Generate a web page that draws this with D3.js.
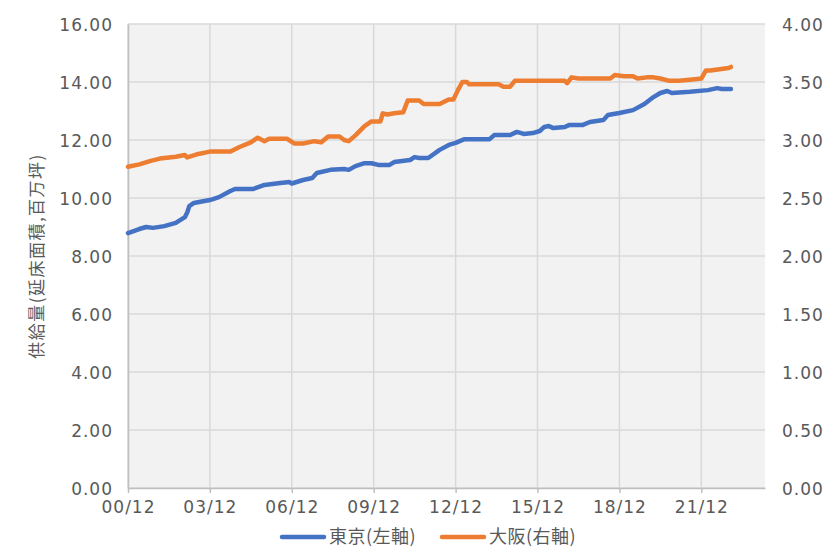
<!DOCTYPE html>
<html>
<head>
<meta charset="utf-8">
<script src="https://cdn.jsdelivr.net/npm/d3@7"></script>
<style>
  body { margin: 0; background: #ffffff; }
  .num { font-family: "DejaVu Sans", sans-serif; font-size: 17px; fill: #595959; letter-spacing: 1px; }
  .jp { font-family: "Noto Sans CJK JP", sans-serif; fill: #595959; }
</style>
</head>
<body>
<div class="chart"></div>
<script>
// Tokyo supply (left axis, million tsubo)
var tokyoDates = ["2000-12","2001-05","2001-08","2001-11","2002-04","2002-09","2003-01","2003-02","2003-03","2003-05",
  "2003-12","2004-04","2004-09","2004-11","2005-07","2005-12","2006-07","2006-11","2006-12","2007-05",
  "2007-09","2007-11","2008-05","2008-11","2009-01","2009-04","2009-08","2009-11","2010-02","2010-07",
  "2010-09","2011-04","2011-06","2011-08","2011-12","2012-05","2012-09","2012-12","2013-02","2013-04",
  "2014-03","2014-05","2014-12","2015-03","2015-06","2015-10","2016-01","2016-03","2016-05","2016-07",
  "2016-12","2017-02","2017-08","2017-11","2018-05","2018-07","2018-12","2019-06","2019-11","2020-03",
  "2020-06","2020-09","2020-11","2021-07","2022-03","2022-07","2022-09","2023-01"];
var tokyoValues = [8.79,8.93,9.00,8.97,9.03,9.14,9.34,9.50,9.72,9.83,
  9.93,10.03,10.24,10.31,10.31,10.45,10.52,10.55,10.50,10.62,
  10.69,10.86,10.97,11.00,10.97,11.10,11.20,11.20,11.14,11.14,
  11.24,11.31,11.41,11.38,11.38,11.66,11.83,11.90,11.97,12.03,
  12.03,12.17,12.17,12.28,12.21,12.24,12.31,12.45,12.48,12.41,
  12.45,12.52,12.52,12.62,12.69,12.86,12.93,13.03,13.24,13.48,
  13.62,13.69,13.62,13.66,13.72,13.79,13.76,13.76];

// Osaka supply (right axis, million tsubo)
var osakaDates = ["2000-12","2001-05","2001-10","2002-02","2002-09","2003-01","2003-02","2003-07","2003-12","2004-09",
  "2005-01","2005-06","2005-09","2005-12","2006-02","2006-10","2007-01","2007-05","2007-10","2008-01",
  "2008-04","2008-09","2008-11","2009-01","2009-04","2009-08","2009-11","2010-03","2010-04","2010-06",
  "2010-09","2011-01","2011-03","2011-08","2011-10","2012-05","2012-07","2012-09","2012-11","2013-01",
  "2013-03","2013-05","2013-06","2014-07","2014-09","2014-12","2015-02","2016-12","2017-01","2017-03",
  "2017-06","2018-08","2018-10","2019-02","2019-06","2019-08","2019-12","2020-03","2020-06","2020-10",
  "2021-02","2021-07","2021-12","2022-02","2022-04","2022-08","2022-12","2023-01"];
var osakaValues = [2.77,2.79,2.82,2.84,2.855,2.87,2.85,2.88,2.90,2.90,
  2.94,2.98,3.02,2.99,3.01,3.01,2.97,2.97,2.99,2.98,
  3.03,3.03,3.00,2.99,3.04,3.12,3.16,3.16,3.23,3.22,
  3.23,3.24,3.34,3.34,3.31,3.31,3.33,3.35,3.35,3.43,
  3.50,3.50,3.48,3.48,3.46,3.46,3.51,3.51,3.49,3.54,
  3.53,3.53,3.56,3.55,3.55,3.53,3.54,3.54,3.53,3.51,
  3.51,3.52,3.53,3.60,3.60,3.61,3.62,3.63];

// axis ticks and labels
var xTickDates = ["2000-12","2003-12","2006-12","2009-12","2012-12","2015-12","2018-12","2021-12"];
var leftTicks = [0, 2, 4, 6, 8, 10, 12, 14, 16];
var rightTicks = [0, 0.5, 1, 1.5, 2, 2.5, 3, 3.5, 4];
var xStart = "2000-12";
var xEnd = "2024-04";
var yTitle = "供給量(延床面積,百万坪)";
var seriesNames = ["東京(左軸)", "大阪(右軸)"];
var seriesColors = ["#4472c4", "#ed7d31"];

var svgWidth = 833;
var svgHeight = 547;
var margin = { top: 24, right: 68, bottom: 59, left: 128 };
var width = svgWidth - margin.left - margin.right;
var height = svgHeight - margin.top - margin.bottom;

var parseMonth = d3.timeParse("%Y-%m");

var svg = d3.select(".chart")
  .append("svg")
  .attr("width", svgWidth)
  .attr("height", svgHeight);

var chartGroup = svg.append("g")
  .attr("transform", `translate(${margin.left}, ${margin.top})`);

// scales
var xTimeScale = d3.scaleTime()
  .domain([parseMonth(xStart), parseMonth(xEnd)])
  .range([0, width]);

var yLinearScale1 = d3.scaleLinear()
  .domain([0, 16])
  .range([height, 0]);

var yLinearScale2 = d3.scaleLinear()
  .domain([0, 4])
  .range([height, 0]);

// plot area background
chartGroup.append("rect")
  .attr("width", width)
  .attr("height", height)
  .attr("fill", "#f2f2f2");

// horizontal gridlines
chartGroup.selectAll(".hgrid")
  .data(leftTicks)
  .enter()
  .append("line")
  .attr("x1", 0)
  .attr("x2", width)
  .attr("y1", d => yLinearScale1(d))
  .attr("y2", d => yLinearScale1(d))
  .attr("stroke", "#d9d9d9")
  .attr("stroke-width", 1.5);

// vertical gridlines
chartGroup.selectAll(".vgrid")
  .data(xTickDates)
  .enter()
  .append("line")
  .attr("x1", d => xTimeScale(parseMonth(d)))
  .attr("x2", d => xTimeScale(parseMonth(d)))
  .attr("y1", 0)
  .attr("y2", height)
  .attr("stroke", "#d9d9d9")
  .attr("stroke-width", 1.5);

// axes
var bottomAxis = d3.axisBottom(xTimeScale)
  .tickValues(xTickDates.map(parseMonth))
  .tickFormat(d3.timeFormat("%y/%m"))
  .tickSizeInner(5)
  .tickSizeOuter(0)
  .tickPadding(5);

var leftAxis = d3.axisLeft(yLinearScale1)
  .tickValues(leftTicks)
  .tickFormat(d3.format(".2f"))
  .tickSize(0)
  .tickPadding(15);

var rightAxis = d3.axisRight(yLinearScale2)
  .tickValues(rightTicks)
  .tickFormat(d3.format(".2f"))
  .tickSize(0)
  .tickPadding(17);

var xAxisGroup = chartGroup.append("g")
  .attr("transform", `translate(0, ${height})`)
  .call(bottomAxis);

var yAxisGroup = chartGroup.append("g")
  .call(leftAxis);

var y2AxisGroup = chartGroup.append("g")
  .attr("transform", `translate(${width}, 0)`)
  .call(rightAxis);

[xAxisGroup, yAxisGroup, y2AxisGroup].forEach(function (g) {
  g.selectAll("text").attr("class", "num").attr("fill", null);
  g.selectAll("line").attr("stroke", "#bfbfbf").attr("stroke-width", 1.5);
  g.select(".domain").attr("stroke", "#bfbfbf").attr("stroke-width", 1.5);
});
y2AxisGroup.select(".domain").remove();
yAxisGroup.selectAll("text").attr("dy", "0.36em");
y2AxisGroup.selectAll("text").attr("dy", "0.36em");
xAxisGroup.selectAll("text").attr("dy", "0.9em");

// y axis title
svg.append("text")
  .attr("class", "jp")
  .attr("transform", `translate(43, ${margin.top + height / 2}) rotate(-90)`)
  .attr("text-anchor", "middle")
  .attr("font-size", "17px")
  .attr("letter-spacing", "1.5px")
  .text(yTitle);

// line generators
var tokyoData = tokyoDates.map((d, i) => ({ date: parseMonth(d), value: tokyoValues[i] }));
var osakaData = osakaDates.map((d, i) => ({ date: parseMonth(d), value: osakaValues[i] }));

var line1 = d3.line()
  .x(d => xTimeScale(d.date))
  .y(d => yLinearScale1(d.value));

var line2 = d3.line()
  .x(d => xTimeScale(d.date))
  .y(d => yLinearScale2(d.value));

chartGroup.append("path")
  .data([tokyoData])
  .attr("d", line1)
  .attr("fill", "none")
  .attr("stroke", seriesColors[0])
  .attr("stroke-width", 4.5)
  .attr("stroke-linejoin", "round")
  .attr("stroke-linecap", "round");

chartGroup.append("path")
  .data([osakaData])
  .attr("d", line2)
  .attr("fill", "none")
  .attr("stroke", seriesColors[1])
  .attr("stroke-width", 4.5)
  .attr("stroke-linejoin", "round")
  .attr("stroke-linecap", "round");

// legend
var legendX = [282, 442];
var legend = svg.selectAll(".legend")
  .data(seriesNames)
  .enter()
  .append("g")
  .attr("transform", (d, i) => `translate(${legendX[i]}, 537)`);

legend.append("line")
  .attr("x1", 0)
  .attr("x2", 42)
  .attr("stroke", (d, i) => seriesColors[i])
  .attr("stroke-width", 4.5)
  .attr("stroke-linecap", "round");

legend.append("text")
  .attr("class", "jp")
  .attr("x", 47)
  .attr("dy", "0.35em")
  .attr("font-size", "18px")
  .attr("letter-spacing", "0.5px")
  .text(d => d);
</script>
</body>
</html>
